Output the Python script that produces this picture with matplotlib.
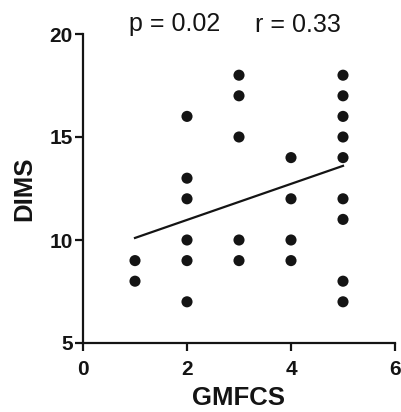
import matplotlib
matplotlib.use("Agg")
import matplotlib.pyplot as plt

# GMFCS level and DIMS score for each subject
gmfcs = [1, 1,
         2, 2, 2, 2, 2, 2,
         3, 3, 3, 3, 3,
         4, 4, 4, 4,
         5, 5, 5, 5, 5, 5, 5, 5, 5]
dims = [9, 8,
        16, 13, 12, 10, 9, 7,
        18, 17, 15, 10, 9,
        14, 12, 10, 9,
        18, 17, 16, 15, 14, 12, 11, 8, 7]

# Linear fit endpoints
fit_x = [1, 5]
fit_y = [10.1, 13.6]

x_ticks = [0, 2, 4, 6]
y_ticks = [5, 10, 15, 20]
stats_p = "p = 0.02"
stats_r = "r = 0.33"

plt.rcParams['font.family'] = ['Liberation Sans', 'DejaVu Sans']

ink = '#141414'

fig = plt.figure(figsize=(4.02, 4.12), dpi=100)
ax = fig.add_axes([83 / 402, 1 - 343 / 412, 312 / 402, 309 / 412])

ax.scatter(gmfcs, dims, s=64, color=ink, edgecolors='none', zorder=3,
           clip_on=False)
ax.plot(fit_x, fit_y, color=ink, linewidth=1.6, zorder=2)

ax.set_xlim(0, 6)
ax.set_ylim(5, 20)
ax.set_xticks(x_ticks)
ax.set_yticks(y_ticks)
ax.set_xticklabels([str(t) for t in x_ticks], fontsize=15, fontweight='bold')
ax.set_yticklabels([str(t) for t in y_ticks], fontsize=15, fontweight='bold')

for side in ('top', 'right'):
    ax.spines[side].set_visible(False)
for side in ('left', 'bottom'):
    ax.spines[side].set_linewidth(1.6)
    ax.spines[side].set_color(ink)

ax.tick_params(axis='both', direction='out', length=6, width=1.6,
               color=ink, labelcolor=ink)
ax.tick_params(axis='x', pad=6)
ax.tick_params(axis='y', pad=1.5)

ax.set_xlabel("GMFCS", fontsize=18.5, fontweight='bold', color=ink,
              labelpad=5)
ax.set_ylabel("DIMS", fontsize=18.5, fontweight='bold', color=ink,
              labelpad=9)

fig.text(129 / 402, 1 - 31.5 / 412, stats_p, fontsize=18, color=ink,
         va='baseline', ha='left')
fig.text(255 / 402, 1 - 31.5 / 412, stats_r, fontsize=18, color=ink,
         va='baseline', ha='left')

fig.savefig("out.png", dpi=100, facecolor='white')
